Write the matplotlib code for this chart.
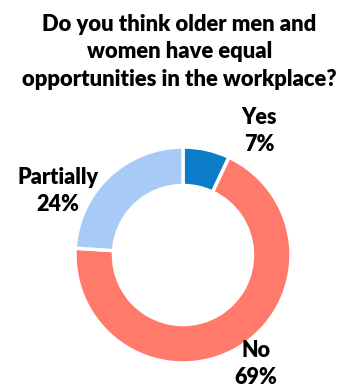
import matplotlib.pyplot as plt

plt.rcParams['font.family'] = ['Lato', 'DejaVu Sans']

answers = ["Yes", "No", "Partially"]
shares = [7, 69, 24]
colors = ["#0a7cc8", "#ff7a6a", "#a7cbf6"]
title = "Do you think older men and\nwomen have equal\nopportunities in the workplace?"

W, H = 349, 388
fig = plt.figure(figsize=(W / 100, H / 100), dpi=100)

# donut centred at (183, 255) px from top-left, outer radius ~108 px
cx, cy, half = 183, 255, 110
ax = fig.add_axes([(cx - half) / W, (H - cy - half) / H, 2 * half / W, 2 * half / H])
ax.pie(shares, colors=colors, startangle=90, counterclock=False,
       radius=108 / 110,
       wedgeprops=dict(width=0.35, edgecolor="white", linewidth=2.5))
ax.set_xlim(-1, 1)
ax.set_ylim(-1, 1)
ax.set_aspect("equal")
ax.axis("off")

fig.text(0.514, 1 - 52 / H, title, ha="center", va="center",
         fontsize=15.8, fontweight="heavy", linespacing=1.4)

# label spots (px), same order as answers
label_xy = [(259, 131), (256, 364), (58, 191)]
for name, val, (x, y) in zip(answers, shares, label_xy):
    fig.text(x / W, 1 - y / H, f"{name}\n{val}%", ha="center", va="center",
             fontsize=15.5, fontweight="heavy", linespacing=1.3)

fig.savefig("out.png", dpi=100)
